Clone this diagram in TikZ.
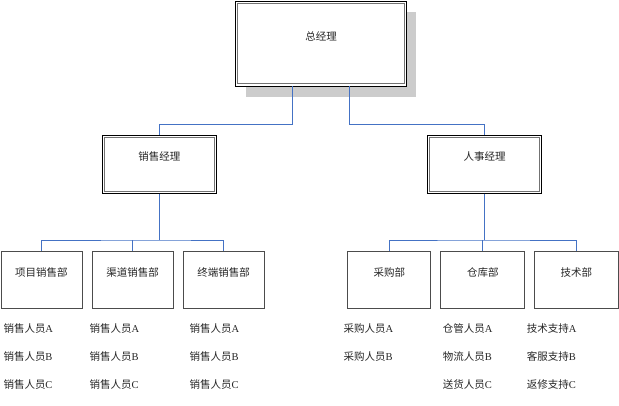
\documentclass[tikz,border=0pt]{standalone}
\usepackage{fontspec}
\setmainfont{Liberation Serif}
\newfontfamily\cjk{Noto Sans CJK SC}
\newcommand{\zh}[1]{{\cjk #1}}
\definecolor{conncol}{RGB}{68,114,196}
\definecolor{shadowcol}{RGB}{204,204,204}
\begin{document}
\begin{tikzpicture}[x=1pt,y=-1pt,
  every node/.style={font=\fontsize{10.5}{12}\selectfont, text=black!85},
  dbox/.style={draw=black, line width=0.6pt, rectangle, inner sep=0pt, fill=white},
  sbox/.style={draw=black!70, line width=1pt, rectangle, inner sep=0pt, minimum height=57pt},
  innerline/.style={draw=black!55, line width=1.2pt},
  conn/.style={draw=conncol, line width=0.8pt},
  txt/.style={inner sep=0pt, anchor=center},
  item/.style={inner sep=0pt, anchor=west}]
\useasboundingbox (0,0) rectangle (619,406);
% top box with shadow
\fill[shadowcol] (246,12) rectangle (416,97);
\node[dbox, minimum width=170.5pt, minimum height=84.5pt] (gm) at (321,43.75) {};
\draw[innerline] ([shift={(2.4,2.4)}]gm.north west) rectangle ([shift={(-2.4,-2.4)}]gm.south east);
\node[txt] (gmt) at ([shift={(0,35.5)}]gm.north) {\zh{总经理}};
% managers
\node[dbox, minimum width=114pt, minimum height=57.6pt] (sm) at (159.3,164.5) {};
\draw[innerline] ([shift={(2.2,2.2)}]sm.north west) rectangle ([shift={(-2.2,-2.2)}]sm.south east);
\node[txt] (smt) at ([shift={(0,21.6)}]sm.north) {\zh{销售经理}};
\node[dbox, minimum width=114.4pt, minimum height=57.6pt] (hr) at (484.5,164.5) {};
\draw[innerline] ([shift={(2.2,2.2)}]hr.north west) rectangle ([shift={(-2.2,-2.2)}]hr.south east);
\node[txt] (hrt) at ([shift={(0,21.6)}]hr.north) {\zh{人事经理}};
% departments
\node[sbox, minimum width=81pt] (b1) at (41.5,280.2) {};
\node[sbox, minimum width=81pt] (b2) at (132.5,280.2) {};
\node[sbox, minimum width=81.3pt] (b3) at (223.7,280.2) {};
\node[sbox, minimum width=83.3pt] (b4) at (389.3,280.2) {};
\node[sbox, minimum width=83.7pt] (b5) at (482.8,280.2) {};
\node[sbox, minimum width=84pt] (b6) at (576.3,280.2) {};
\node[txt] (b1t) at ([shift={(0,21.6)}]b1.north) {\zh{项目销售部}};
\node[txt] (b2t) at ([shift={(0,21.6)}]b2.north) {\zh{渠道销售部}};
\node[txt] (b3t) at ([shift={(0,21.6)}]b3.north) {\zh{终端销售部}};
\node[txt] (b4t) at ([shift={(0,21.6)}]b4.north) {\zh{采购部}};
\node[txt] (b5t) at ([shift={(0,21.6)}]b5.north) {\zh{仓库部}};
\node[txt] (b6t) at ([shift={(0,21.6)}]b6.north) {\zh{技术部}};
% connectors
\draw[conn] ([shift={(-28.3,0)}]gm.south) -- ++(0,38.3) -| (sm.north);
\draw[conn] ([shift={(28.3,0)}]gm.south) -- ++(0,38.3) -| (hr.north);
\coordinate (sbar) at (159.3,240);
\draw[conn] (sm.south) -- (sbar);
\draw[conn] (b1.north) |- (sbar) -| (b3.north);
\draw[conn] (b2.north) -- (b2.north |- sbar);
\coordinate (hbar) at (484.5,240);
\draw[conn] (hr.south) -- (hbar);
\draw[conn] (b4.north) |- (hbar) -| (b6.north);
\draw[conn] (b5.north) -- (b5.north |- hbar);
% staff lists
\node[item] (s1a) at (3.3,328.3) {\zh{销售人员}A};
\node[item] (s1b) at (3.3,356.7) {\zh{销售人员}B};
\node[item] (s1c) at (3.3,385) {\zh{销售人员}C};
\node[item] (s2a) at (89.3,328.3) {\zh{销售人员}A};
\node[item] (s2b) at (89.3,356.7) {\zh{销售人员}B};
\node[item] (s2c) at (89.3,385) {\zh{销售人员}C};
\node[item] (s3a) at (189.3,328.3) {\zh{销售人员}A};
\node[item] (s3b) at (189.3,356.7) {\zh{销售人员}B};
\node[item] (s3c) at (189.3,385) {\zh{销售人员}C};
\node[item] (s4a) at (343.3,328.3) {\zh{采购人员}A};
\node[item] (s4b) at (343.3,356.7) {\zh{采购人员}B};
\node[item] (s5a) at (442.7,328.3) {\zh{仓管人员}A};
\node[item] (s5b) at (442.7,356.7) {\zh{物流人员}B};
\node[item] (s5c) at (442.7,385) {\zh{送货人员}C};
\node[item] (s6a) at (526.7,328.3) {\zh{技术支持}A};
\node[item] (s6b) at (526.7,356.7) {\zh{客服支持}B};
\node[item] (s6c) at (526.7,385) {\zh{返修支持}C};
\end{tikzpicture}
\end{document}
